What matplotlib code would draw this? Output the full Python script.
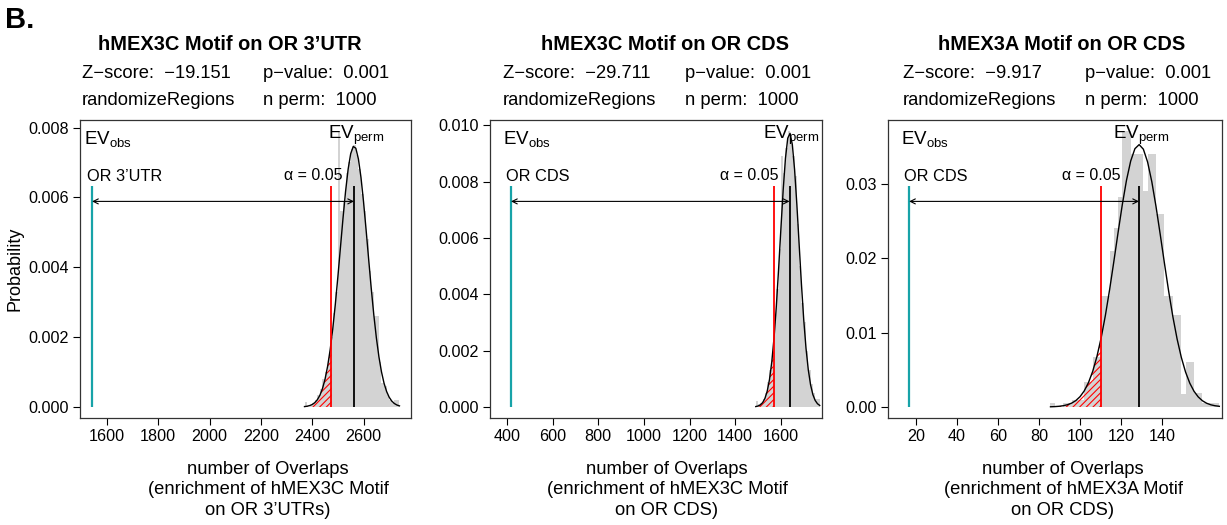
import numpy as np
import matplotlib
matplotlib.use("Agg")
import matplotlib.pyplot as plt
from matplotlib import transforms

plt.rcParams["font.family"] = ["Liberation Sans", "DejaVu Sans"]
plt.rcParams["mathtext.fontset"] = "custom"
plt.rcParams["mathtext.rm"] = "Liberation Sans"
plt.rcParams["mathtext.it"] = "Liberation Sans"
plt.rcParams["hatch.linewidth"] = 0.8

W, H = 1227, 525

# ---- panel 1: hMEX3C motif on OR 3'UTR ----
utr_bins = [2370, 10]  # first break, bin width
utr_density = [0.00015, 0.0, 0.00005, 0.0001, 0.0002, 0.00035, 0.0005, 0.0008, 0.001,
               0.0014, 0.002, 0.0027, 0.0033, 0.0079, 0.0056, 0.0059, 0.0067, 0.007,
               0.0074, 0.0075, 0.0072, 0.0068, 0.0061, 0.0056, 0.0048, 0.0039, 0.0033,
               0.0026, 0.0026, 0.0013, 0.0007, 0.0006, 0.00035, 0.0002, 0.0001, 0.0002, 0.0002]
utr_stats = dict(mean=2563, sd=53.4, obs=1542, alpha=2475)

# ---- panel 2: hMEX3C motif on OR CDS ----
cds_bins = [1490, 10]
cds_density = [0.0002, 0.0001, 0.00015, 0.0003, 0.0005, 0.0009, 0.0013, 0.002, 0.003,
               0.0042, 0.0056, 0.0089, 0.0083, 0.0092, 0.0098, 0.0095, 0.0089, 0.0082,
               0.0065, 0.005, 0.0037, 0.003, 0.002, 0.0013, 0.0008, 0.0005, 0.0003, 0.0003]
cds_stats = dict(mean=1638, sd=41, obs=418, alpha=1570)

# ---- panel 3: hMEX3A motif on OR CDS ----
a_bins = [85.6, 2.06]
a_density = [0.0005, 0.0, 0.0, 0.0005, 0.0005, 0.001, 0.001, 0.001, 0.0034, 0.0034,
             0.0067, 0.0067, 0.0149, 0.0149, 0.021, 0.024, 0.0282, 0.0371, 0.0371, 0.034,
             0.034, 0.034, 0.029, 0.034, 0.034, 0.026, 0.026, 0.0149, 0.0149, 0.0123,
             0.0123, 0.0018, 0.006, 0.006, 0.0019, 0.0019, 0.0005, 0.0005, 0.0005, 0.0005]
a_stats = dict(mean=128.8, sd=11.31, obs=16.6, alpha=110.2)

titles = ["hMEX3C Motif on OR 3\u2019UTR", "hMEX3C Motif on OR CDS", "hMEX3A Motif on OR CDS"]
zscores = ["\u221219.151", "\u221229.711", "\u22129.917"]
obs_labels = ["OR 3\u2019UTR", "OR CDS", "OR CDS"]
xlabels = ["number of Overlaps\n(enrichment of hMEX3C Motif\non OR 3\u2019UTRs)",
           "number of Overlaps\n(enrichment of hMEX3C Motif\non OR CDS)",
           "number of Overlaps\n(enrichment of hMEX3A Motif\non OR CDS)"]
xticks = [np.arange(1600, 2601, 200), np.arange(400, 1601, 200), np.arange(20, 141, 20)]
yticks = [np.arange(0, 0.0081, 0.002), np.arange(0, 0.0101, 0.002), np.arange(0, 0.031, 0.01)]
yfmt = ["{:.3f}", "{:.3f}", "{:.2f}"]
xlims = [(1495, 2785), (326, 1780), (6.3, 169.3)]

# pixel layout: axes boxes (left, right), text anchors
boxes = [(80, 411), (490, 822), (888, 1222)]
box_top, box_bot = 120, 418
title_x = [230, 665, 1062]
z_x = [82, 503, 903]
p_x = [263, 685, 1085]
xlab_x = [268, 667, 1063]
alpha_dx = [-18, -25, -10]

teal = "#17a3a8"
fig = plt.figure(figsize=(W / 100, H / 100), dpi=100)


def fx(px):
    return px / W


def fy(py):
    return 1 - py / H


panels = [(utr_bins, utr_density, utr_stats), (cds_bins, cds_density, cds_stats),
          (a_bins, a_density, a_stats)]

for i, (bins, dens, st) in enumerate(panels):
    l, r = boxes[i]
    ax = fig.add_axes([fx(l), fy(box_bot), (r - l) / W, (box_bot - box_top) / H])
    edges = bins[0] + bins[1] * np.arange(len(dens) + 1)
    ax.bar(edges[:-1], dens, width=bins[1], align="edge", color="#d3d3d3", linewidth=0)

    m, sd = st["mean"], st["sd"]
    curve = np.exp(-0.5 * ((edges - m) / sd) ** 2) / (sd * np.sqrt(2 * np.pi))
    ax.plot(edges, curve, color="black", lw=1)

    hx = np.append(edges[edges <= st["alpha"]], st["alpha"])
    hy = np.exp(-0.5 * ((hx - m) / sd) ** 2) / (sd * np.sqrt(2 * np.pi))
    ax.fill_between(hx, 0, hy, facecolor="none", edgecolor="red", hatch="/////", linewidth=0)

    top = max(dens)
    ax.vlines(st["obs"], 0, 0.8 * top, color=teal, lw=1.6)
    ax.vlines(st["alpha"], 0, 0.8 * top, color="red", lw=1.3)
    ax.vlines(m, 0, 0.8 * top, color="black", lw=1.3)
    ax.annotate("", xy=(st["obs"], 0.745 * top), xytext=(m, 0.745 * top),
                arrowprops=dict(arrowstyle="<->", lw=0.8, color="black",
                                shrinkA=0, shrinkB=0, mutation_scale=9))

    ax.set_xlim(*xlims[i])
    ax.set_ylim(-0.04 * top, 1.04 * top)
    ax.set_xticks(xticks[i])
    ax.set_yticks(yticks[i])
    ax.set_yticklabels([yfmt[i].format(v) for v in yticks[i]])
    ax.tick_params(direction="out", length=5, width=0.8, labelsize=11.6, pad=3)
    for s in ax.spines.values():
        s.set_linewidth(0.9)
        s.set_color("#333333")

    bt = transforms.blended_transform_factory(ax.transData, ax.transAxes)
    ax.text(st["obs"], 0.935, r"EV$_{\mathrm{obs}}$", fontsize=13.5, ha="left", va="center",
            transform=transforms.offset_copy(bt, fig=fig, x=-8, y=0, units="dots"))
    ax.text(st["obs"], 0.81, obs_labels[i], fontsize=11.8, ha="left", va="center",
            transform=transforms.offset_copy(bt, fig=fig, x=-5, y=0, units="dots"))
    ax.text(m, 0.95, r"EV$_{\mathrm{perm}}$", fontsize=13.5, ha="center", va="center",
            transform=transforms.offset_copy(bt, fig=fig, x=2, y=0, units="dots"))
    ax.text(st["alpha"], 0.815, "\u03b1 = 0.05", fontsize=11.5, ha="center", va="center",
            transform=transforms.offset_copy(bt, fig=fig, x=alpha_dx[i], y=0, units="dots"))

    fig.text(fx(title_x[i]), fy(45), titles[i], fontsize=14.4, fontweight="bold",
             ha="center", va="center")
    fig.text(fx(z_x[i]), fy(73), "Z\u2212score:  " + zscores[i], fontsize=13.2, va="center")
    fig.text(fx(p_x[i]), fy(73), "p\u2212value:  0.001", fontsize=13.2, va="center")
    fig.text(fx(z_x[i]), fy(101), "randomizeRegions", fontsize=13.2, va="center")
    fig.text(fx(p_x[i]), fy(101), "n perm:  1000", fontsize=13.2, va="center")
    fig.text(fx(xlab_x[i]), fy(490), xlabels[i], fontsize=13.2, ha="center", va="center",
             linespacing=1.28)

fig.text(fx(15), fy(269), "Probability", fontsize=13, rotation=90, ha="center", va="center")
fig.text(fx(5), fy(20), "B.", fontsize=21, fontweight="bold", ha="left", va="center")

fig.savefig("out.png", dpi=100)
